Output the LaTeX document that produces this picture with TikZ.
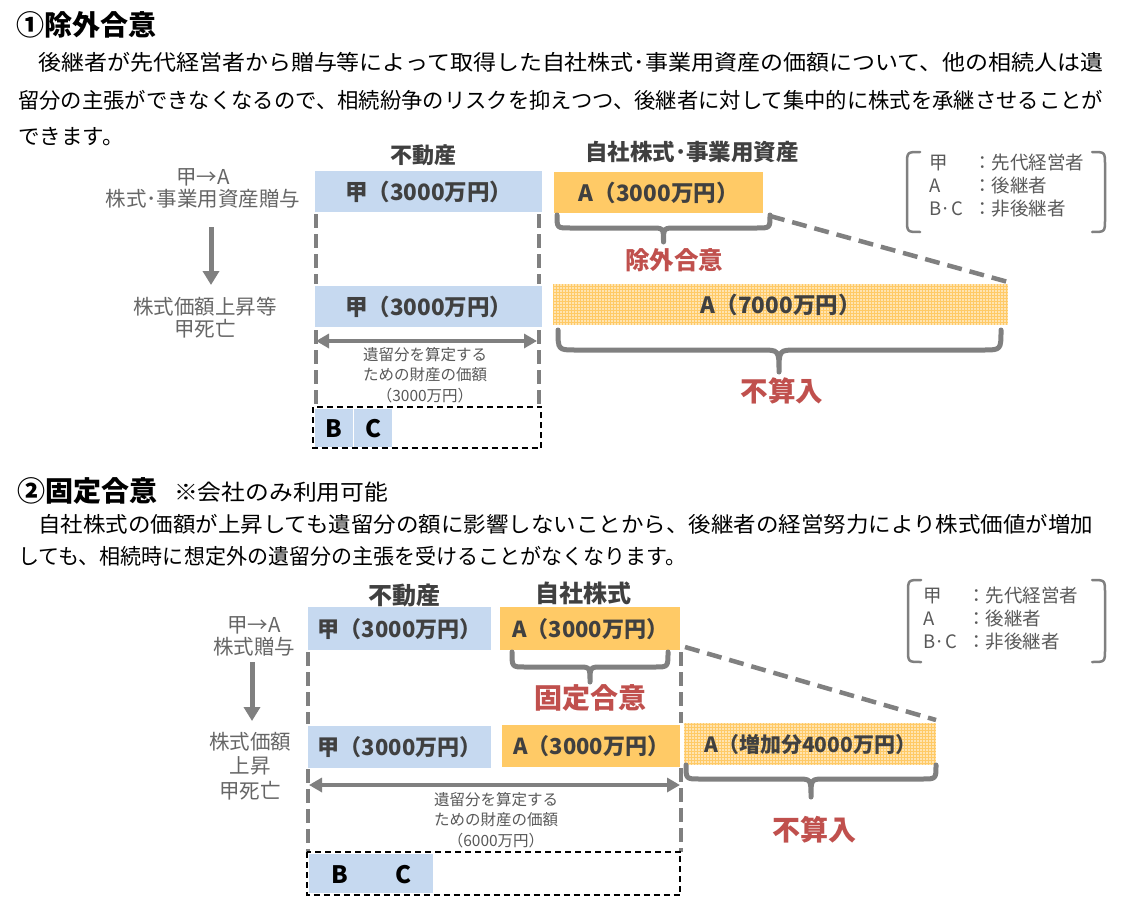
\documentclass[tikz,border=0pt]{standalone}
\usepackage{fontspec}
\usepackage{graphicx}
\setmainfont{Noto Sans CJK JP}
\usetikzlibrary{arrows.meta,patterns.meta}
\definecolor{cblue}{HTML}{C6D9F0}
\definecolor{corange}{HTML}{FFCA66}
\definecolor{cdark}{HTML}{404040}
\definecolor{cred}{HTML}{C0504D}
\definecolor{cgray}{HTML}{808080}
\definecolor{ctxt}{HTML}{666666}
\definecolor{csmall}{HTML}{595959}
\newcommand\fitw[2]{\resizebox{#1}{\height}{#2}}
\newcommand\fs[2]{\fontsize{#1}{#2}\selectfont}
\tikzset{
  box/.style={inner sep=0pt, anchor=north west, text=cdark, font=\bfseries\fs{22.5}{22}},
  bluebox/.style={box, fill=cblue},
  orbox/.style={box, fill=corange},
  hatchbox/.style={box, fill=corange, postaction={pattern={Dots[distance=3pt,radius=0.9pt]}, pattern color=white}},
  head/.style={inner sep=0pt, text=cdark, font=\bfseries\fs{22}{22}},
  redlbl/.style={inner sep=0pt, text=cred, font=\bfseries\fs{24.5}{25}},
  sidelbl/.style={inner sep=0pt, text=ctxt, align=center, font=\fs{20.5}{22}},
  smalltxt/.style={inner sep=0pt, text=csmall, align=center, font=\fs{15.5}{20.5}},
  legendtxt/.style={inner sep=0pt, anchor=west, text=csmall, align=left, font=\fs{18.5}{23}},
  bodyline/.style={inner sep=0pt, anchor=west, text=black, font=\fs{21.5}{22}},
  vdash/.style={draw=cgray, line width=4.5pt, dash pattern=on 14pt off 6pt},
  ddash/.style={draw=cgray, line width=4.5pt, dash pattern=on 15pt off 8pt},
  bcframe/.style={draw=black, line width=2pt, dash pattern=on 6pt off 4pt},
  bracestyle/.style={draw=cgray, line width=5pt, line cap=round, line join=round},
  bracket/.style={draw=cgray, line width=2.5pt, line cap=round},
  downarr/.style={draw=cgray, line width=5pt, -{Triangle[width=16pt,length=14pt]}},
  dblarr/.style={draw=cgray, line width=4pt, {Triangle[width=14pt,length=13pt]}-{Triangle[width=14pt,length=13pt]}},
  letter/.style={inner sep=0pt, text=black, font=\bfseries\fs{24}{24}}
}
\begin{document}
\begin{tikzpicture}[x=1pt,y=-1pt]
\useasboundingbox (0,0) rectangle (1121,915);
\fill[white] (0,0) rectangle (1121,915);

% ---------- Section 1 text ----------
\node[inner sep=0pt, anchor=west, font=\bfseries\fs{28}{28}] (t1) at (16,25) {①除外合意};
\node[bodyline] (b1) at (38,62) {\fitw{1065pt}{後継者が先代経営者から贈与等によって取得した自社株式･事業用資産の価額について、他の相続人は遺}};
\node[bodyline] (b2) at (18,100) {\fitw{1085pt}{留分の主張ができなくなるので、相続紛争のリスクを抑えつつ、後継者に対して集中的に株式を承継させることが}};
\node[bodyline] (b3) at (18,137) {できます。};

% ---------- Section 1 diagram ----------
\node[head] (s1h1) at (423,155) {不動産};
\node[head, font=\bfseries\fs{22.5}{22}] (s1h2) at (692,152) {自社株式･事業用資産};

\node[sidelbl] (s1g1) at (203,188) {甲→A\\株式･事業用資産贈与};
\node[sidelbl] (s1g2) at (205,318) {株式価額上昇等\\甲死亡};
\coordinate (s1arS) at (211,227);
\coordinate (s1arE) at (211,285);
\draw[downarr] (s1arS) -- (s1arE);

\node[bluebox, minimum width=227pt, minimum height=41pt] (s1j1) at (315,171) {甲（3000万円）};
\node[orbox, minimum width=209pt, minimum height=41pt] (s1a1) at (554,172) {A（3000万円）};
\node[bluebox, minimum width=227pt, minimum height=41pt] (s1j2) at (315,286) {甲（3000万円）};
\node[hatchbox, minimum width=455pt, minimum height=41pt] (s1a2) at (553,284) {A（7000万円）};

% dashed verticals
\coordinate (s1L1) at (316,214); \coordinate (s1L2) at (316,284);
\coordinate (s1L3) at (316,330); \coordinate (s1L4) at (316,405);
\coordinate (s1R1) at (539,214); \coordinate (s1R2) at (539,284);
\coordinate (s1R3) at (539,330); \coordinate (s1R4) at (539,405);
\draw[vdash] (s1L1) -- (s1L2);
\draw[vdash] (s1L3) -- (s1L4);
\draw[vdash] (s1R1) -- (s1R2);
\draw[vdash] (s1R3) -- (s1R4);

% diagonal
\coordinate (s1d1) at (770,216);
\coordinate (s1d2) at (1008,282);
\draw[ddash] (s1d1) -- (s1d2);

% braces
\draw[bracestyle] (557,215) .. controls (557,228) .. (570,228) -- (651,228) .. controls (663.5,228) .. (663.5,242)
   .. controls (663.5,228) .. (676,228) -- (757,228) .. controls (770,228) .. (770,215);
\node[redlbl] (s1r1) at (674,260) {除外合意};

\draw[bracestyle] (558,330) .. controls (558,350) .. (576,350) -- (761,350) .. controls (779,350) .. (779,372)
   .. controls (779,350) .. (797,350) -- (983,350) .. controls (1001,350) .. (1001,330);
\node[redlbl, font=\bfseries\fs{27.5}{28}] (s1r2) at (782,391) {不算入};

% double arrow and text
\coordinate (s1dbA) at (316,341);
\coordinate (s1dbB) at (537,341);
\draw[dblarr] (s1dbA) -- (s1dbB);
\node[smalltxt] (s1s) at (425,375) {遺留分を算定する\\ための財産の価額\\（3000万円）};

% B C frame
\node[draw=none, inner sep=0pt, minimum width=228pt, minimum height=41pt, anchor=north west] (s1bc) at (313,407) {};
\draw[bcframe] (s1bc.north west) rectangle (s1bc.south east);
\node[fill=cblue, inner sep=0pt, minimum width=38pt, minimum height=38pt, anchor=north west] (s1B) at (315,409) {};
\node[fill=cblue, inner sep=0pt, minimum width=38pt, minimum height=38pt, anchor=north west] (s1C) at (354,409) {};
\node[letter] at (s1B) {B};
\node[letter] at (s1C) {C};

% legend 1
\draw[bracket] (920,152) .. controls (907,152) .. (907,165) -- (907,219) .. controls (907,232) .. (920,232);
\draw[bracket] (1092,152) .. controls (1105,152) .. (1105,165) -- (1105,219) .. controls (1105,232) .. (1092,232);
\node[legendtxt] (lg1) at (929,186) {\makebox[44pt][l]{甲}：先代経営者\\\makebox[44pt][l]{A}：後継者\\\makebox[44pt][l]{B·C}：非後継者};

% ---------- Section 2 text ----------
\node[inner sep=0pt, anchor=west, font=\bfseries\fs{28}{28}] (t2) at (17,491) {②固定合意};
\node[inner sep=0pt, anchor=west, font=\fs{22}{22}] (t2b) at (174,492) {\fitw{214pt}{※会社のみ利用可能}};
\node[bodyline] (c1) at (38,524) {\fitw{1055pt}{自社株式の価額が上昇しても遺留分の額に影響しないことから、後継者の経営努力により株式価値が増加}};
\node[bodyline] (c2) at (18,556) {\fitw{668pt}{しても、相続時に想定外の遺留分の主張を受けることがなくなります。}};

% ---------- Section 2 diagram ----------
\node[head, font=\bfseries\fs{24}{24}] (s2h1) at (404,595) {不動産};
\node[head, font=\bfseries\fs{24}{24}] (s2h2) at (583,593) {自社株式};

\node[sidelbl] (s2g1) at (254,636) {甲→A\\株式贈与};
\node[sidelbl, font=\fs{20.5}{24.5}] (s2g2) at (250,766) {株式価額\\上昇\\甲死亡};
\coordinate (s2arS) at (252,662);
\coordinate (s2arE) at (252,721);
\draw[downarr] (s2arS) -- (s2arE);

\node[bluebox, font=\bfseries\fs{22}{22}, minimum width=183pt, minimum height=43pt] (s2j1) at (308,607) {甲（3000万円）};
\node[orbox, font=\bfseries\fs{22}{22}, minimum width=180pt, minimum height=43pt] (s2a1) at (500,607) {A（3000万円）};
\node[bluebox, font=\bfseries\fs{22}{22}, minimum width=183pt, minimum height=42pt] (s2j2) at (308,726) {甲（3000万円）};
\node[orbox, font=\bfseries\fs{22}{22}, minimum width=178pt, minimum height=42pt] (s2a2) at (502,725) {A（3000万円）};
\node[hatchbox, font=\bfseries\fs{21}{21}, minimum width=252pt, minimum height=42pt] (s2a3) at (684,723) {A（増加分4000万円）};

% dashed verticals
\coordinate (s2L1) at (308,652); \coordinate (s2L2) at (308,724);
\coordinate (s2L3) at (308,769); \coordinate (s2L4) at (308,852);
\coordinate (s2R1) at (681,652); \coordinate (s2R2) at (681,723);
\coordinate (s2R3) at (681,768); \coordinate (s2R4) at (681,852);
\draw[vdash] (s2L1) -- (s2L2);
\draw[vdash] (s2L3) -- (s2L4);
\draw[vdash] (s2R1) -- (s2R2);
\draw[vdash] (s2R3) -- (s2R4);

% diagonal
\coordinate (s2d1) at (685,647);
\coordinate (s2d2) at (936,720);
\draw[ddash] (s2d1) -- (s2d2);

% braces
\draw[bracestyle] (512,652) .. controls (512,667) .. (525,667) -- (578,667) .. controls (590,667) .. (590,682)
   .. controls (590,667) .. (602,667) -- (655,667) .. controls (668,667) .. (668,652);
\node[redlbl, font=\bfseries\fs{28}{28}] (s2r1) at (590,698) {固定合意};

\draw[bracestyle] (686,765) .. controls (686,779) .. (700,779) -- (797,779) .. controls (811,779) .. (811,797)
   .. controls (811,779) .. (825,779) -- (922,779) .. controls (936,779) .. (936,765);
\node[redlbl, font=\bfseries\fs{28}{28}] (s2r2) at (814,830) {不算入};

% double arrow and text
\coordinate (s2dbA) at (309,785);
\coordinate (s2dbB) at (680,785);
\draw[dblarr] (s2dbA) -- (s2dbB);
\node[smalltxt] (s2s) at (496,820) {遺留分を算定する\\ための財産の価額\\（6000万円）};

% B C frame
\node[draw=none, inner sep=0pt, minimum width=373pt, minimum height=43pt, anchor=north west] (s2bc) at (307,852) {};
\draw[bcframe] (s2bc.north west) rectangle (s2bc.south east);
\node[fill=cblue, inner sep=0pt, minimum width=124pt, minimum height=39pt, anchor=north west] (s2BC) at (309,854) {};
\node[letter] (s2B) at (340,875) {B};
\node[letter] (s2C) at (403,875) {C};

% legend 2
\draw[bracket] (921,580) .. controls (908,580) .. (908,593) -- (908,649) .. controls (908,662) .. (921,662);
\draw[bracket] (1092,580) .. controls (1105,580) .. (1105,593) -- (1105,649) .. controls (1105,662) .. (1092,662);
\node[legendtxt] (lg2) at (923,619) {\makebox[44pt][l]{甲}：先代経営者\\\makebox[44pt][l]{A}：後継者\\\makebox[44pt][l]{B·C}：非後継者};
\end{tikzpicture}
\end{document}
